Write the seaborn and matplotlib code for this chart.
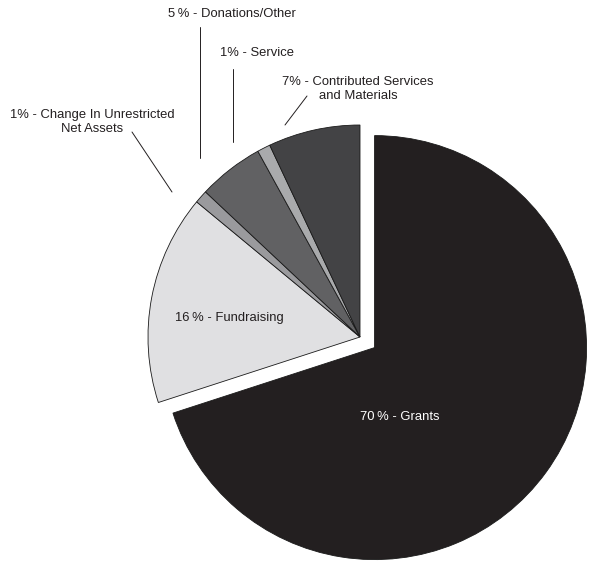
import matplotlib
matplotlib.use("Agg")
import matplotlib.pyplot as plt
import seaborn as sns

# Data
categories = ["Grants", "Fundraising", "Change In Unrestricted\nNet Assets",
              "Donations/Other", "Service", "Contributed Services\nand Materials"]
shares = [70, 16, 1, 5, 1, 7]
colors = ["#231f20", "#e0e0e2", "#9a9a9d", "#616163", "#a9aaac", "#434345"]
explode = [0.085, 0, 0, 0, 0, 0]

sns.set_style("white")
plt.rcParams["font.family"] = ["Liberation Sans", "DejaVu Sans"]

# pixel -> data helpers (center of pie at px (360, 337), radius 212 px)
CX, CY, R = 360, 337, 212
def px(x, y):
    return (x - CX) / R, (CY - y) / R

fig = plt.figure(figsize=(5.89, 5.63), dpi=100)
ax = fig.add_axes([0, 0, 1, 1])
ax.pie(shares, colors=colors, explode=explode, startangle=90,
       counterclock=False, radius=1,
       wedgeprops={"edgecolor": "#1a1a1a", "linewidth": 0.6})
ax.set_xlim(-CX / R, (589 - CX) / R)
ax.set_ylim(-(563 - CY) / R, CY / R)
ax.set_aspect("equal")
ax.axis("off")

fs = 9.4
tc = "#231f20"

# inner labels
ax.text(*px(400, 417), f"{shares[0]}\u2009% - {categories[0]}", color="white",
        fontsize=fs, ha="center", va="center")
ax.text(*px(229, 318), f"{shares[1]}\u2009% - {categories[1]}", color=tc,
        fontsize=fs, ha="center", va="center")

# outer labels with leader lines
outer = [
    (2, f"{shares[2]}% - {categories[2]}", (92, 122), [(132, 132), (172, 192)]),
    (3, f"{shares[3]}\u2009% - {categories[3]}", (232, 14), [(200, 27), (200, 158)]),
    (4, f"{shares[4]}% - {categories[4]}", (257, 53), [(233, 69), (233, 142)]),
    (5, f"{shares[5]}% - {categories[5]}", (358, 89), [(307, 96), (285, 125)]),
]
for i, label, pos, line in outer:
    ax.text(*px(*pos), label, color=tc, fontsize=fs, ha="center", va="center",
            linespacing=1.3)
    (x0, y0), (x1, y1) = px(*line[0]), px(*line[1])
    ax.plot([x0, x1], [y0, y1], color=tc, linewidth=0.7)

fig.savefig("out.png", dpi=100)
